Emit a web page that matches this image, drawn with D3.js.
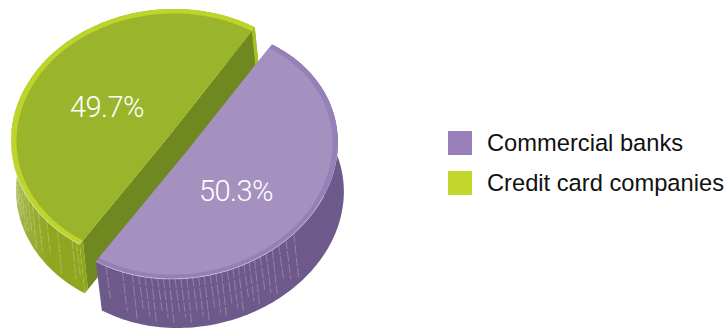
<!DOCTYPE html>
<html>
<head>
<meta charset="utf-8">
<script src="https://cdn.jsdelivr.net/npm/d3@7"></script>
<style>
html,body{margin:0;padding:0;background:#fff;}
svg{display:block;}
</style>
</head>
<body>
<svg id="chart" width="728" height="329"></svg>
<script>
// Market share of the two lender types
const categories = ["Commercial banks", "Credit card companies"];
const shares = [50.3, 49.7];
const shareLabels = ["50.3%", "49.7%"];

// Palette per category
const topColors = ["#a591c0", "#9ab52c"];
const rimColors = ["#9680b8", "#bfd42b"];
const sideColors = ["#6e5a8a", "#8fa61f"];
const swatchColors = ["#9a80bb", "#c2d72e"];

// Facet seams on each wall, in degrees around the pie
const purpleSeams = [176, 169, 165, 162.5, 160, 157.5, 155.2, 153, 150.8, 148.6, 146.4, 144.2, 142, 139.8, 137.6, 135.4, 133.2, 131, 128.8, 126.6, 124.4, 122.2, 120, 117.8, 115.4, 112.8, 110, 107, 103.5, 99.5];
const greenSeams = [182, 184, 191, 197, 202, 206, 209.5, 212.5, 215, 217.5, 219.5, 221.5, 223.5, 225.5, 227.2, 229, 230.5, 232, 233.5, 235];

// Oblique projection of each exploded slice: centre, conjugate semi-axes
const slices = [
  {c:[185,153.5], a:[88,-108.5], b:[125,63], depth:[6,49], wall:null, label:[236,191], seams:purpleSeams},
  {c:[168.5,136.5], a:[87.5,-108.5], b:[131,67], depth:[5,49], wall:"#6f881f", label:[107,107], seams:greenSeams}
];
const insetScale = 0.965;

const svg = d3.select("#chart");
const defs = svg.append("defs");
const sheen = defs.append("linearGradient").attr("id","greenSide")
  .attr("gradientUnits","userSpaceOnUse").attr("x1",14).attr("x2",50).attr("y1",0).attr("y2",0);
sheen.append("stop").attr("offset",0).attr("stop-color","#a2b64a");
sheen.append("stop").attr("offset",1).attr("stop-color","#8fa61f");

// Angles come straight from the shares, centred on the cut line
const span = shares[0] / d3.sum(shares) * 2 * Math.PI;
const start = (Math.PI - span) / 2;
const arcs = d3.pie().sort(null).startAngle(start).endAngle(start + 2 * Math.PI)(shares);

const project = (s, th, k = 1, off = [0,0]) => [
  s.c[0] + off[0] + k * (s.a[0] * Math.cos(th) + s.b[0] * Math.sin(th)),
  s.c[1] + off[1] + k * (s.a[1] * Math.cos(th) + s.b[1] * Math.sin(th))
];
const arcPts = (s, t0, t1, k, off) =>
  d3.range(0, 121).map(i => project(s, t0 + (t1 - t0) * i / 120, k, off));
const line = d3.line();
const closed = pts => line(pts) + "Z";
const shift = (p, o) => [p[0] + o[0], p[1] + o[1]];

// Green is drawn first so the purple slice sits in front of its cut face
[1, 0].forEach(i => {
  const s = slices[i], d = arcs[i], g = svg.append("g");
  const outer = arcPts(s, d.startAngle, d.endAngle, 1);
  const inner = arcPts(s, d.startAngle, d.endAngle, insetScale);
  const base = arcPts(s, d.startAngle, d.endAngle, 1, s.depth);

  // outer wall
  g.append("path").attr("d", closed(outer.concat(base.slice().reverse())))
    .attr("fill", i === 1 ? "url(#greenSide)" : sideColors[i]);

  // flat cut face behind the neighbouring slice, with the narrow end strips of the wall beside it
  if (s.wall) {
    const o0 = project(s, d.startAngle), o1 = project(s, d.endAngle);
    const p0 = project(s, d.startAngle, insetScale), p1 = project(s, d.endAngle, insetScale);
    g.append("path").attr("d", closed([o0, p0, shift(p0, s.depth), shift(o0, s.depth)])).attr("fill", sideColors[i]);
    g.append("path").attr("d", closed([o1, p1, shift(p1, s.depth), shift(o1, s.depth)])).attr("fill", "#a9bf2a");
    g.append("path").attr("d", closed([p0, s.c, p1, shift(p1, s.depth), shift(p0, s.depth)])).attr("fill", s.wall);
  }

  // dashed facet lines on the wall
  s.seams.forEach((deg, j) => {
    const th = deg * Math.PI / 180;
    const from = project(s, th), to = project(s, th, 1, [s.depth[0] * 0.8, s.depth[1] * (0.7 + 0.1 * (j % 3))]);
    g.append("line").attr("x1", from[0]).attr("y1", from[1]).attr("x2", to[0]).attr("y2", to[1])
      .attr("stroke", "#fff").attr("stroke-opacity", 0.3).attr("stroke-width", 0.8)
      .attr("stroke-dasharray", "9 2 11 2");
  });

  // top face: rim first, then the inset surface
  g.append("path").attr("d", closed(outer.concat([s.c]))).attr("fill", rimColors[i]);
  g.append("path").attr("d", closed(inner.concat([s.c]))).attr("fill", topColors[i]);

  // thin highlight where the rim meets the wall
  const lit = i === 0 ? [d.startAngle + 1.4, d.endAngle] : [d.startAngle, d.startAngle + 1.05];
  g.append("path").attr("d", line(arcPts(s, lit[0], lit[1], 1)))
    .attr("fill", "none").attr("stroke", "#fff").attr("stroke-opacity", 0.45).attr("stroke-width", 0.8);

  g.append("text").attr("x", s.label[0]).attr("y", s.label[1])
    .attr("text-anchor", "middle").attr("dominant-baseline", "central")
    .attr("font-family", "Roboto, Lato, sans-serif").attr("font-weight", 300)
    .attr("font-size", 29).attr("letter-spacing", -0.5).attr("fill", "#fff").text(shareLabels[i]);
});

// Legend
const legendY = d3.scalePoint().domain(categories).range([143, 183]);
const legend = svg.append("g");
categories.forEach((name, i) => {
  legend.append("rect").attr("x", 448).attr("y", legendY(name) - 12)
    .attr("width", 24).attr("height", 24).attr("fill", swatchColors[i]);
  legend.append("text").attr("x", 487).attr("y", legendY(name))
    .attr("dominant-baseline", "central")
    .attr("font-family", "'Liberation Sans', Arial, sans-serif").attr("font-size", 23.7)
    .attr("fill", "#111").text(name);
});
</script>
</body>
</html>
